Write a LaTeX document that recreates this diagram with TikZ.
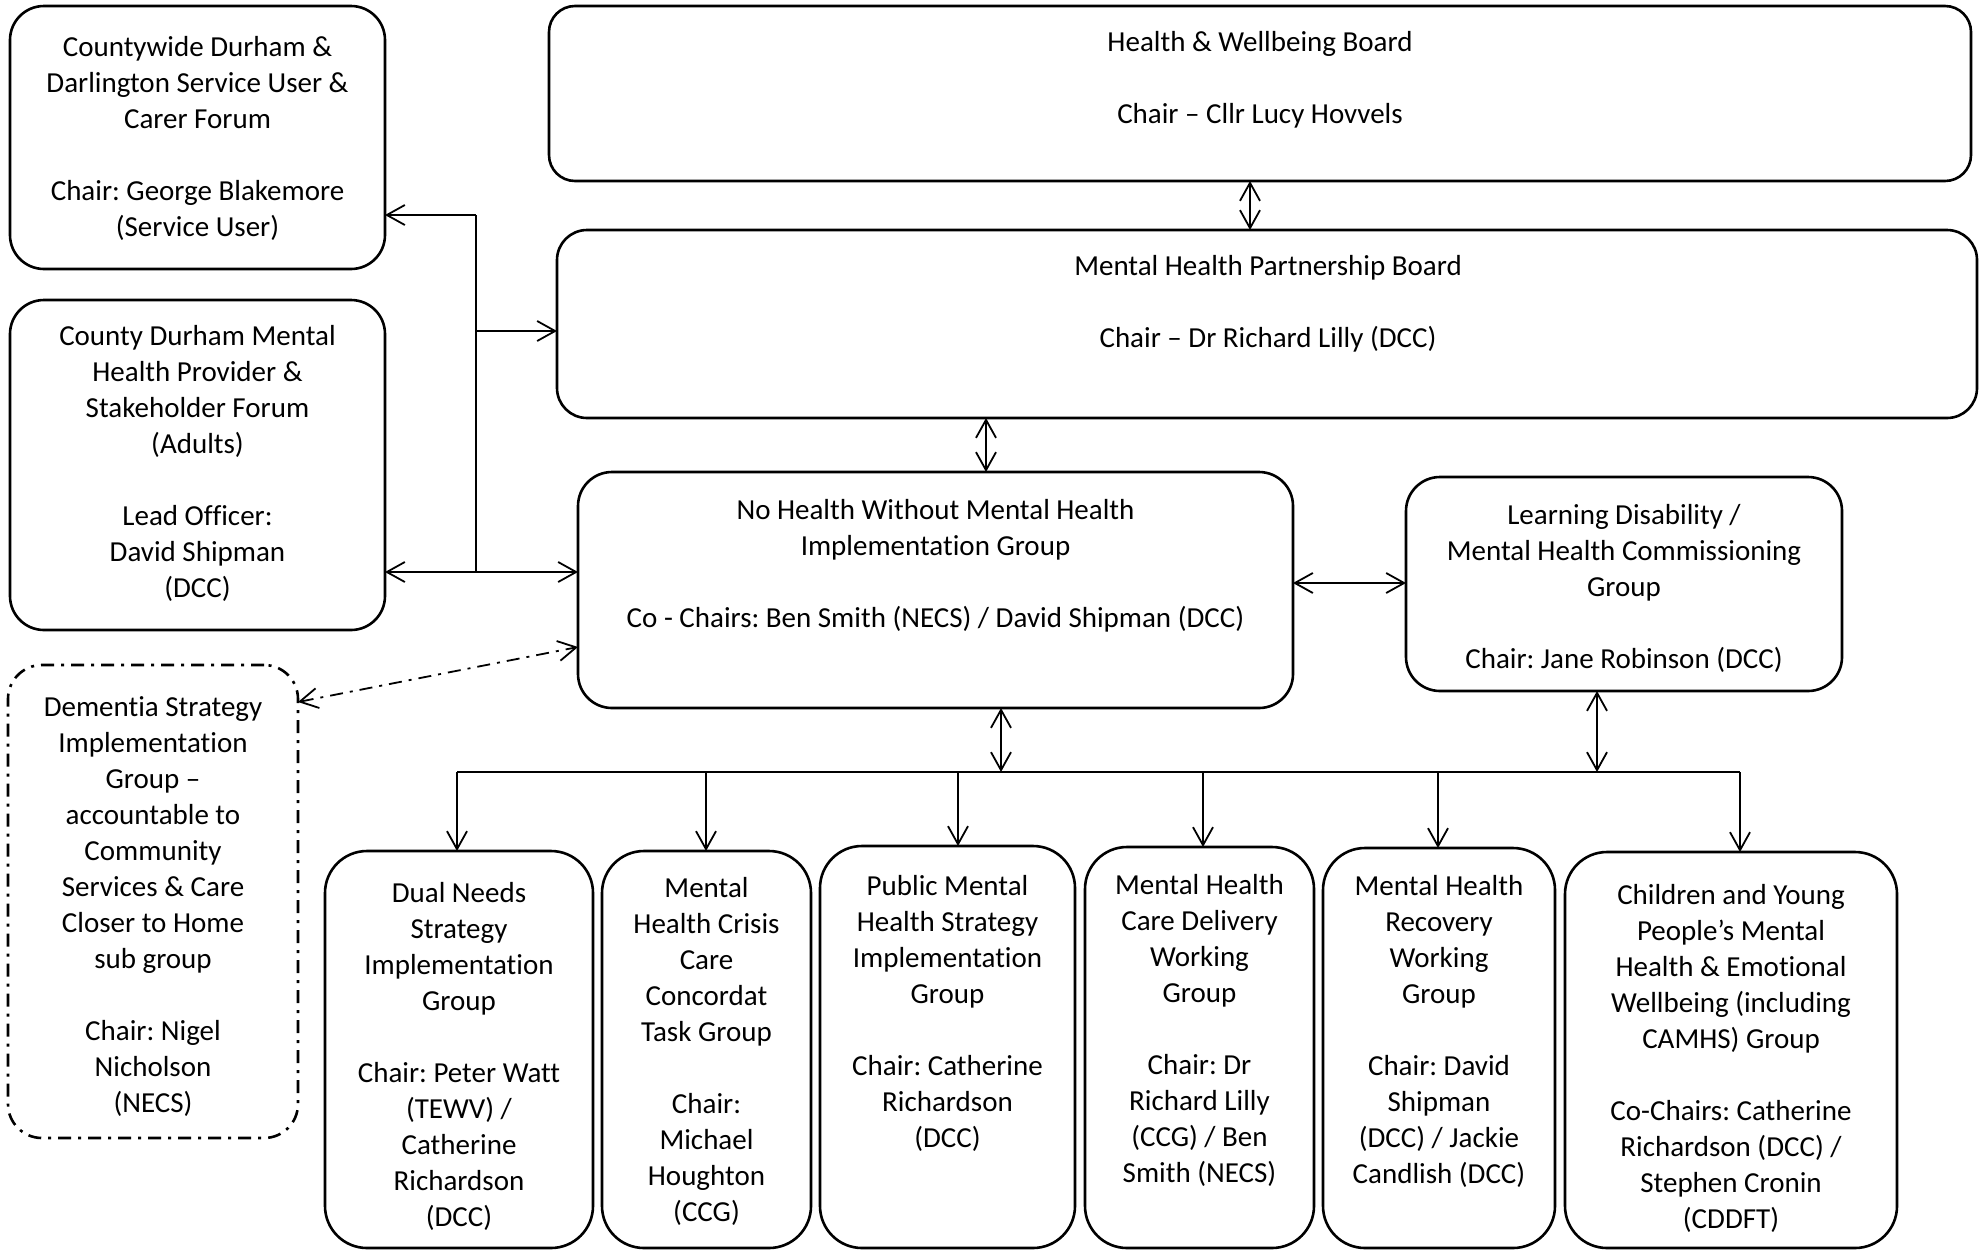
\documentclass[tikz,border=0pt]{standalone}
\usepackage{fontspec}
\setmainfont{Carlito}[Ligatures={TeX,NoCommon}]
\frenchspacing
\usetikzlibrary{arrows.meta}

\begin{document}
\begin{tikzpicture}[x=1pt, y=-1pt,
    box/.style={draw, line width=2.6pt, rounded corners=34pt, inner sep=0pt, outer sep=0pt},
    txt/.style={align=center, inner sep=0pt, anchor=north, font=\fontsize{29}{36}\selectfont},
    arrow/.style={line width=1.8pt, -{Straight Barb[length=18pt,width=20pt]}},
    link/.style={line width=1.8pt, {Straight Barb[length=18pt,width=20pt]}-{Straight Barb[length=18pt,width=20pt]}},
    dashdot/.style={dash pattern=on 13pt off 7pt on 3pt off 7pt}]
    \useasboundingbox (0,0) rectangle (1980,1251);

    % boxes
    \node[box, minimum width=375pt, minimum height=263pt] (carer) at (197.5,137.5) {};
    \node[box, minimum width=375pt, minimum height=330pt] (prov) at (197.5,465) {};
    \node[box, dashdot, minimum width=290pt, minimum height=473pt] (dem) at (153,901.5) {};
    \node[box, rounded corners=26pt, minimum width=1422pt, minimum height=175pt] (hwb) at (1260,93.5) {};
    \node[box, rounded corners=30pt, minimum width=1420pt, minimum height=188pt] (mhpb) at (1267,324) {};
    \node[box, minimum width=715pt, minimum height=236pt] (nh) at (935.5,590) {};
    \node[box, minimum width=436pt, minimum height=214pt] (ld) at (1624,584) {};
    \node[box, rounded corners=42pt, minimum width=268pt, minimum height=397pt] (dual) at (459,1049.5) {};
    \node[box, rounded corners=42pt, minimum width=209pt, minimum height=397pt] (crisis) at (706.5,1049.5) {};
    \node[box, rounded corners=42pt, minimum width=255pt, minimum height=402pt] (public) at (947.5,1047) {};
    \node[box, rounded corners=42pt, minimum width=229pt, minimum height=401pt] (care) at (1199.5,1047.5) {};
    \node[box, rounded corners=42pt, minimum width=232pt, minimum height=400pt] (recovery) at (1439,1048) {};
    \node[box, rounded corners=42pt, minimum width=332pt, minimum height=396pt] (children) at (1731,1050) {};

    % texts
    \node[txt] (carer-t) at (197.5,36) {Countywide Durham \&\\Darlington Service User \&\\Carer Forum\\[36pt]Chair: George Blakemore\\(Service User)};
    \node[txt] (prov-t) at (197.5,325) {County Durham Mental\\Health Provider \&\\Stakeholder Forum\\(Adults)\\[36pt]Lead Officer:\\David Shipman\\(DCC)};
    \node[txt] (dem-t) at (153,696) {Dementia Strategy\\Implementation\\Group –\\accountable to\\Community\\Services \& Care\\Closer to Home\\sub group\\[36pt]Chair: Nigel\\Nicholson\\(NECS)};
    \node[txt] (hwb-t) at (1260,31) {Health \& Wellbeing Board\\[36pt]Chair – Cllr Lucy Hovvels};
    \node[txt] (mhpb-t) at (1268,255) {Mental Health Partnership Board\\[36pt]Chair – Dr Richard Lilly (DCC)};
    \node[txt] (nh-t) at (935.5,499) {No Health Without Mental Health\\Implementation Group\\[36pt]Co - Chairs: Ben Smith (NECS) / David Shipman (DCC)};
    \node[txt] (ld-t) at (1624,504) {Learning Disability /\\Mental Health Commissioning\\Group\\[36pt]Chair: Jane Robinson (DCC)};
    \node[txt] (dual-t) at (459,882) {Dual Needs\\Strategy\\Implementation\\Group\\[36pt]Chair: Peter Watt\\(TEWV) /\\Catherine\\Richardson\\(DCC)};
    \node[txt] (crisis-t) at (706.5,877) {Mental\\Health Crisis\\Care\\Concordat\\Task Group\\[36pt]Chair:\\Michael\\Houghton\\(CCG)};
    \node[txt] (public-t) at (947.5,875) {Public Mental\\Health Strategy\\Implementation\\Group\\[36pt]Chair: Catherine\\Richardson\\(DCC)};
    \node[txt] (care-t) at (1199.5,874) {Mental Health\\Care Delivery\\Working\\Group\\[36pt]Chair: Dr\\Richard Lilly\\(CCG) / Ben\\Smith (NECS)};
    \node[txt] (recovery-t) at (1439,875) {Mental Health\\Recovery\\Working\\Group\\[36pt]Chair: David\\Shipman\\(DCC) / Jackie\\Candlish (DCC)};
    \node[txt] (children-t) at (1731,884) {Children and Young\\People’s Mental\\Health \& Emotional\\Wellbeing (including\\CAMHS) Group\\[36pt]Co-Chairs: Catherine\\Richardson (DCC) /\\Stephen Cronin\\(CDDFT)};

    % board links
    \draw[link] ([xshift=-10pt]hwb.south) -- ([xshift=-17pt]mhpb.north);
    \draw[link] ([xshift=-281pt]mhpb.south) -- ([xshift=50.5pt]nh.north);
    \draw[link] ([yshift=7pt]nh.east) -- ([yshift=7pt]nh.east -| ld.west);

    % forums on the left
    \coordinate (spine-top) at (476,215);
    \coordinate (spine-mid) at (476,331);
    \coordinate (spine-bot) at (476,572);
    \draw[line width=1.8pt] (spine-top) -- (spine-bot);
    \draw[arrow] (spine-top) -- (spine-top -| carer.east);
    \draw[arrow] (spine-mid) -- (spine-mid -| mhpb.west);
    \draw[link] (spine-bot -| prov.east) -- (spine-bot -| nh.west);
    \draw[link, dashdot] ([yshift=199.5pt]dem.east) -- ([yshift=-57pt]nh.west);

    % groups below
    \coordinate (bar-l) at (457,772);
    \coordinate (bar-r) at (1740,772);
    \draw[line width=1.8pt] (bar-l) -- (bar-r);
    \coordinate (nh-drop) at ([xshift=65.5pt]nh.south);
    \coordinate (ld-drop) at ([xshift=-27pt]ld.south);
    \draw[link] (nh-drop) -- (nh-drop |- bar-l);
    \draw[link] (ld-drop) -- (ld-drop |- bar-l);
    \foreach \n/\x in {dual/457, crisis/706, public/958, care/1203, recovery/1438, children/1740} {
        \coordinate (d-\n) at (\x,772);
        \draw[arrow] (d-\n) -- (d-\n |- \n.north);
    }
\end{tikzpicture}
\end{document}
